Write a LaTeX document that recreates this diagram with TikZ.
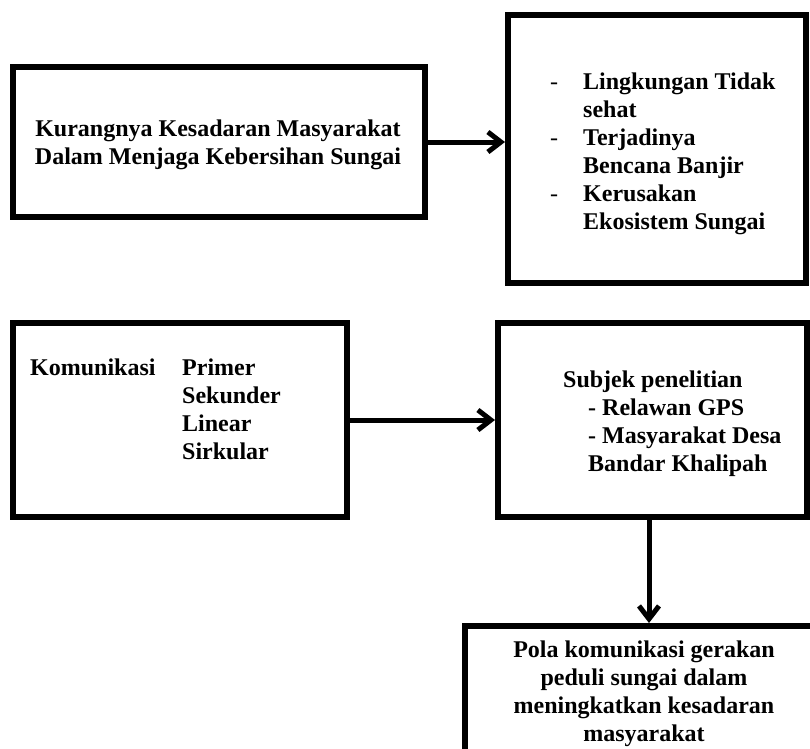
\documentclass[tikz,border=0pt]{standalone}
\usepackage{fontspec}
\setmainfont{Liberation Serif}
\usetikzlibrary{arrows.meta}
\begin{document}
\begin{tikzpicture}[x=1pt,y=-1pt,
  box/.style={draw=black, line width=6pt, rectangle, inner sep=0pt},
  txt/.style={inner sep=0pt, text=black, font=\fontsize{24}{28}\selectfont\bfseries},
  arr/.style={draw=black, line width=5pt, -{Straight Barb[length=13pt,width=20pt]}}]
\useasboundingbox (0,0) rectangle (810,748);
\clip (0,0) rectangle (810,748);
\fill[white] (0,0) rectangle (810,748);
% boxes
\node[box, minimum width=412pt, minimum height=150pt] (b1) at (219,142) {};
\node[box, minimum width=298pt, minimum height=268pt] (b2) at (657,149) {};
\node[box, minimum width=334pt, minimum height=194pt] (b3) at (180,420) {};
\node[box, minimum width=309pt, minimum height=194pt] (b4) at (652.5,420) {};
\node[box, minimum width=395pt, minimum height=174pt] (b5) at (662.5,713) {};
% texts
\node[txt, anchor=base] (t1) at (218,136)
  {\begin{tabular}[t]{@{}c@{}}Kurangnya Kesadaran Masyarakat\\Dalam Menjaga Kebersihan Sungai\end{tabular}};
\node[txt, anchor=base west] (t2) at (550,89)
  {\begin{tabular}[t]{@{}p{33pt}@{}l@{}}\mdseries-&Lingkungan Tidak\\&sehat\\\mdseries-&Terjadinya\\&Bencana Banjir\\\mdseries-&Kerusakan\\&Ekosistem Sungai\end{tabular}};
\node[txt, anchor=base west] (t3) at (30,375)
  {\begin{tabular}[t]{@{}p{152pt}@{}l@{}}Komunikasi&Primer\\&Sekunder\\&Linear\\&Sirkular\end{tabular}};
\node[txt, anchor=base west] (t4) at (563,387)
  {\begin{tabular}[t]{@{}l@{}}Subjek penelitian\\\hspace*{25pt}- Relawan GPS\\\hspace*{25pt}- Masyarakat Desa\\\hspace*{25pt}Bandar Khalipah\end{tabular}};
\node[txt, anchor=base] (t5) at (644,657)
  {\begin{tabular}[t]{@{}c@{}}Pola komunikasi gerakan\\peduli sungai dalam\\meningkatkan kesadaran\\masyarakat\end{tabular}};
% connectors
\coordinate (ax) at (649,0);
\draw[arr] (b1.east) -- (b1.east -| b2.west);
\draw[arr] (b3.east) -- (b4.west);
\draw[arr] (b4.south -| ax) -- (b5.north -| ax);
\end{tikzpicture}
\end{document}
